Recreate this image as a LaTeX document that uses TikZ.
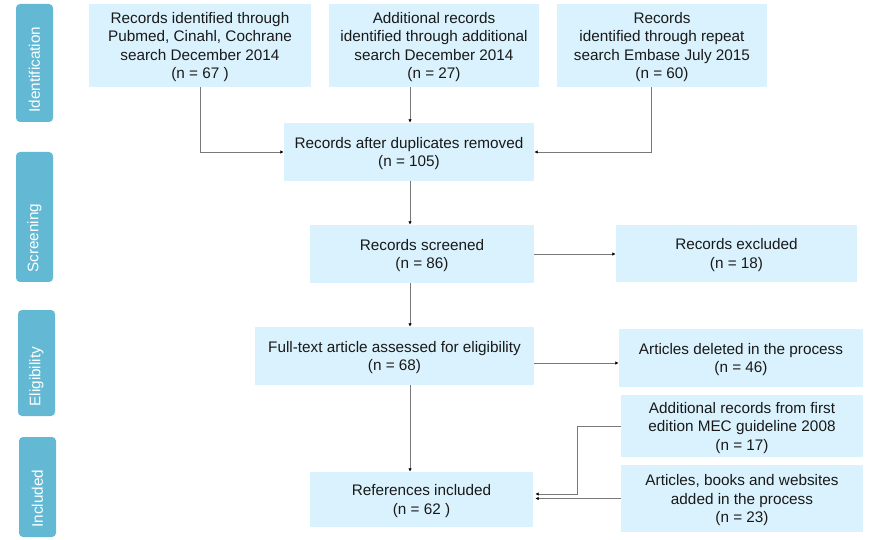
\documentclass[tikz,border=0pt]{standalone}
\usepackage{fontspec}
\setmainfont{Liberation Sans}
\usetikzlibrary{positioning,arrows.meta}
\definecolor{tabblue}{RGB}{99,185,212}
\definecolor{boxblue}{RGB}{218,242,253}
\definecolor{linegray}{RGB}{120,120,120}
\tikzset{
  stage/.style={fill=boxblue,draw=none,inner sep=0pt,align=center,text depth=-1.5pt,text=black!90,font=\fontsize{15.3}{18.5}\selectfont},
  phase/.style={fill=tabblue,draw=none,rounded corners=4pt,inner ysep=0pt,inner xsep=9.5pt,align=left,rotate=90,text=white,font=\fontsize{15.3}{18.5}\selectfont},
  link/.style={draw=linegray,line width=0.8pt,-{Latex[length=3.5pt,width=3.5pt,black]}}
}

\begin{document}
\begin{tikzpicture}[x=1pt,y=-1pt]
      \useasboundingbox (0,0) rectangle (876,540);
      \node[phase,minimum width=118,text width=99,minimum height=37] (tid) at (34.5,63) {Identification};
      \node[phase,minimum width=130,text width=111,minimum height=37] (tsc) at (34.5,217) {Screening};
      \node[phase,minimum width=106,text width=87,minimum height=37] (tel) at (36.5,363) {Eligibility};
      \node[phase,minimum width=100,text width=81,minimum height=37] (tin) at (37.5,487) {Included};
      \node[stage,minimum width=222,minimum height=83] (pub) at (200,45.5) {Records identified through\\Pubmed, Cinahl, Cochrane\\search December 2014\\(n = 67 )};
      \node[stage,minimum width=210,minimum height=83] (add) at (434,45.5) {Additional records\\identified through additional\\search December 2014\\(n = 27)};
      \node[stage,minimum width=210,minimum height=83] (emb) at (662,45.5) {Records\\identified through repeat\\search Embase July 2015\\(n = 60)};
      \node[stage,minimum width=250,minimum height=58] (dup) at (409,152) {Records after duplicates removed\\(n = 105)};
      \node[stage,minimum width=224,minimum height=58] (scr) at (422,254) {Records screened\\(n = 86)};
      \node[stage,minimum width=241,minimum height=57] (exc) at (736.5,253.5) {Records excluded\\(n = 18)};
      \node[stage,minimum width=279,minimum height=58] (full) at (394.5,356) {Full-text article assessed for eligibility\\(n = 68)};
      \node[stage,minimum width=244,minimum height=58] (del) at (741,358) {Articles deleted in the process\\(n = 46)};
      \node[stage,minimum width=242,minimum height=62] (mec) at (742,426) {Additional records from first\\edition MEC guideline 2008\\(n = 17)};
      \node[stage,minimum width=242,minimum height=67] (art) at (742,498.5) {Articles, books and websites\\added in the process\\(n = 23)};
      \node[stage,minimum width=223,minimum height=55] (ref) at (421.5,499.5) {References included\\(n = 62 )};
      \coordinate (spine) at (410,0);
      \coordinate (bend) at (577,0);
      \draw[link] (pub.south) |- (dup.west);
      \draw[link] (add.south -| spine) -- (dup.north -| spine);
      \draw[link] ([xshift=-11pt]emb.south) |- (dup.east);
      \draw[link] (dup.south -| spine) -- (scr.north -| spine);
      \draw[link] (scr.east) -- (scr.east -| exc.west);
      \draw[link] (scr.south -| spine) -- (full.north -| spine);
      \draw[link] ([yshift=-7pt]full.east) -- ([yshift=-7pt]full.east -| del.west);
      \draw[link] (full.south -| spine) -- (ref.north -| spine);
      \draw[link] (mec.west) -- (mec.west -| bend) |- ([xshift=2pt,yshift=5.5pt]ref.east);
      \draw[link] (art.west) -- ([xshift=2pt]art.west -| ref.east);
\end{tikzpicture}
\end{document}
